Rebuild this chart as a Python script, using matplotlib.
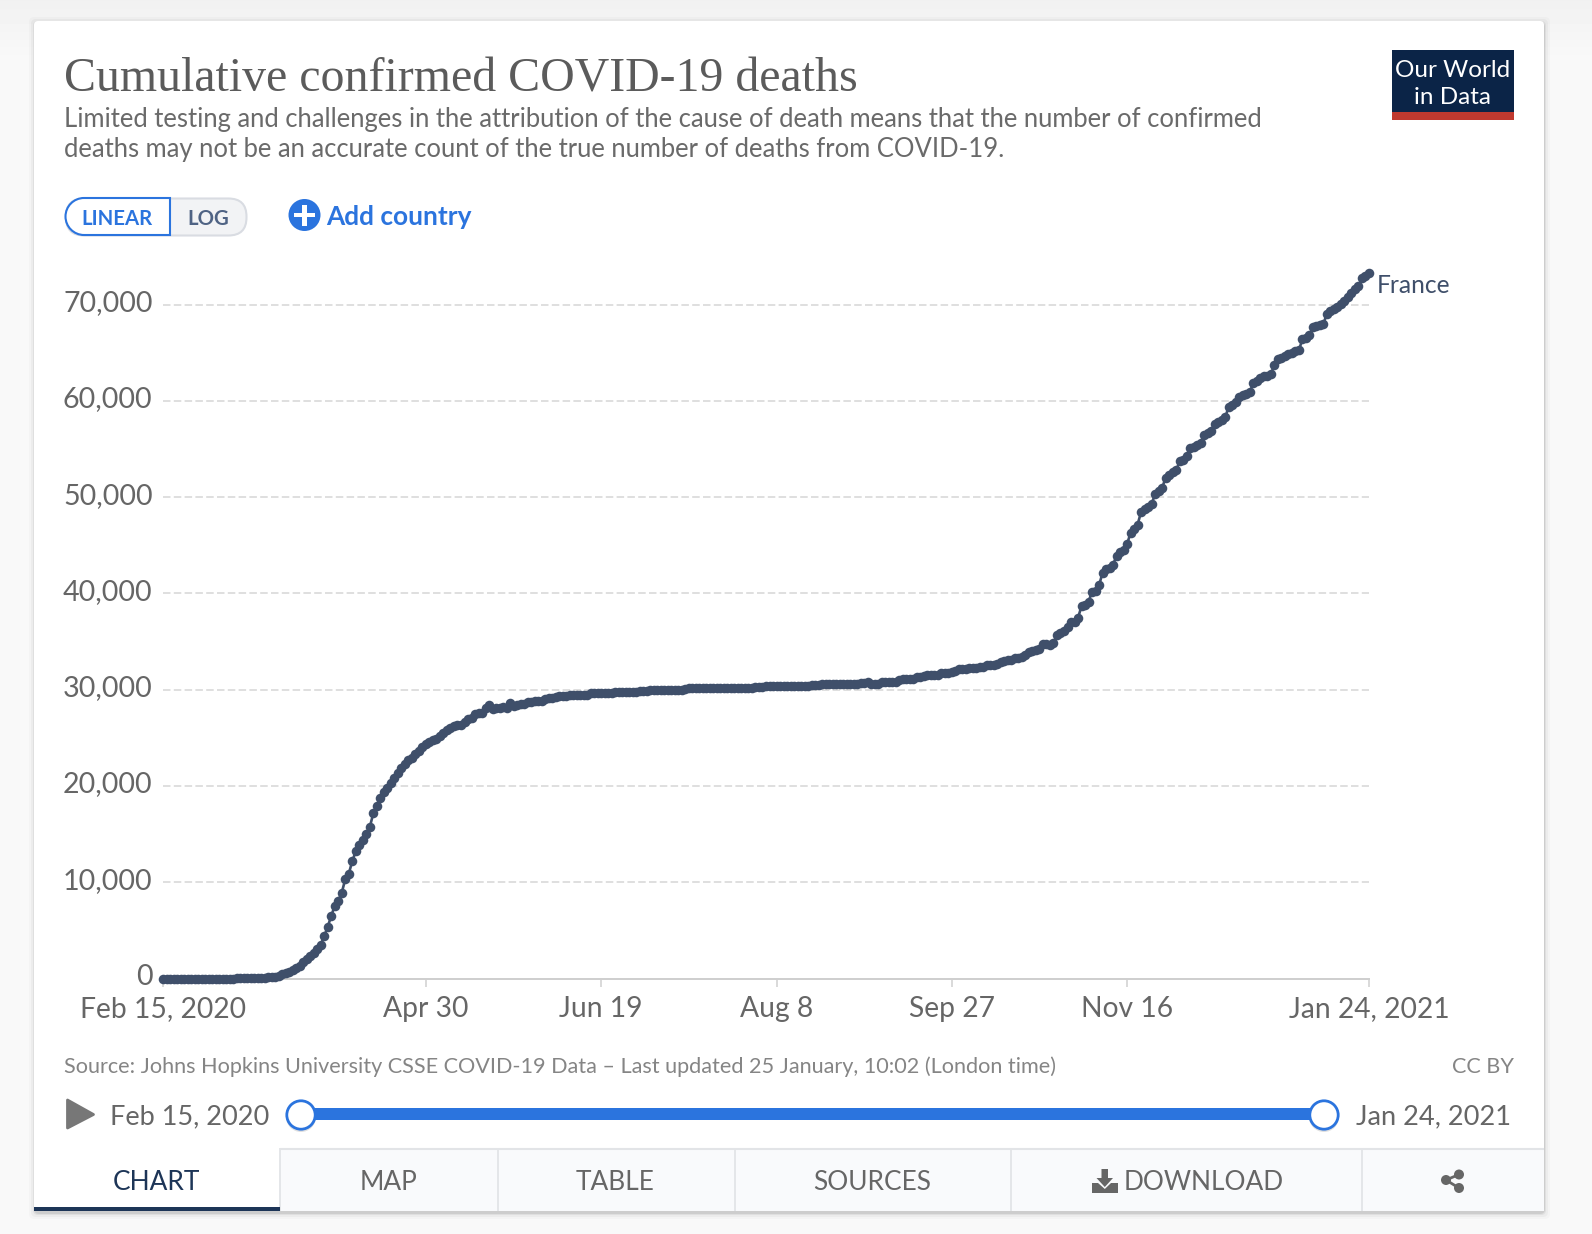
import datetime as dt
import numpy as np
import matplotlib
matplotlib.use("Agg")
import matplotlib.pyplot as plt
import matplotlib.dates as mdates
from matplotlib.patches import Rectangle, FancyBboxPatch, Circle, PathPatch, Polygon
from matplotlib.path import Path
from matplotlib.transforms import ScaledTranslation

# ---------- data (confirmed deaths, one value per day) ----------
feb_2020 = [1, 1, 1, 1, 1, 1, 1, 1, 1, 1, 1, 2, 2, 2, 2]
mar_2020 = [2, 3, 4, 4, 6, 9, 11, 19, 19, 33, 48, 48, 79, 91, 91, 149, 149, 149, 244, 451,
            563, 676, 862, 1102, 1333, 1698, 1997, 2317, 2611, 3030, 3532]
apr_2020 = [4414, 5398, 6520, 7574, 8093, 8926, 10343, 10887, 12228, 13215, 13851, 14412,
            14986, 15748, 17188, 17941, 18703, 19345, 19744, 20292, 20829, 21373, 21889,
            22279, 22648, 22893, 23324, 23684, 24101, 24379]
may_2020 = [24597, 24763, 24900, 25204, 25537, 25812, 25990, 26233, 26313, 26383, 26646,
            26994, 27077, 27425, 27529, 27532, 28111, 28400, 28022, 28132, 28135, 28218,
            28100, 28640, 28332, 28460, 28470, 28530, 28720, 28750, 28780]
jun_2020 = [28805, 28835, 29020, 29145, 29155, 29275, 29300, 29310, 29390, 29400, 29425,
            29435, 29445, 29460, 29470, 29620, 29640, 29650, 29660, 29665, 29675, 29680,
            29735, 29755, 29770, 29785, 29795, 29800, 29805, 29815]
jul_2020 = [29845, 29900, 29975, 29985, 29990, 29995, 29997, 29998, 30005, 30010, 30015,
            30020, 30025, 30160, 30165, 30170, 30172, 30175, 30178, 30180, 30182, 30185,
            30188, 30190, 30192, 30195, 30198, 30200, 30203, 30206, 30210]
aug_2020 = [30225, 30230, 30240, 30260, 30395, 30400, 30402, 30405, 30408, 30410, 30412,
            30415, 30418, 30420, 30425, 30430, 30435, 30440, 30440, 30445, 30600, 30603,
            30606, 30610, 30612, 30615, 30618, 30620, 30625, 30630, 30640]
sep_2020 = [30660, 30700, 30825, 30620, 30620, 30640, 30810, 30815, 30820, 30825, 30830,
            31050, 31060, 31070, 31080, 31090, 31330, 31345, 31460, 31490, 31510, 31525,
            31540, 31700, 31715, 31730, 31880, 31920, 32120, 32140]
oct_2020 = [32160, 32210, 32230, 32250, 32320, 32360, 32520, 32560, 32610, 32700, 32830,
            32940, 33040, 33120, 33250, 33320, 33420, 33580, 33920, 34060, 34170, 34230,
            34700, 34760, 34640, 34900, 35640, 35890, 36050, 36500, 36980]
nov_2020 = [37080, 37460, 38680, 38830, 39150, 40150, 40220, 40840, 42140, 42540, 42600,
            43000, 43900, 44250, 44480, 45130, 46300, 46650, 47150, 48480, 48730, 49000,
            49300, 50320, 50620, 50960, 52030, 52320, 52600, 52800]
dec_2020 = [53700, 53900, 54300, 55100, 55250, 55450, 55580, 56450, 56680, 56900, 57600,
            57760, 58000, 58300, 59400, 59550, 59850, 60430, 60560, 60750, 60950, 61800,
            62050, 62400, 62560, 62620, 62780, 63700, 64300, 64450, 64630]
jan_2021 = [64860, 64990, 65150, 65250, 66380, 66560, 66830, 67620, 67750, 67880, 68000,
            69050, 69300, 69490, 69780, 70050, 70320, 70800, 71200, 71650, 71900, 72710,
            73000, 73250]
france = (feb_2020 + mar_2020 + apr_2020 + may_2020 + jun_2020 + jul_2020 + aug_2020
          + sep_2020 + oct_2020 + nov_2020 + dec_2020 + jan_2021)
start_date = dt.date(2020, 2, 15)
dates = [start_date + dt.timedelta(days=i) for i in range(len(france))]

y_ticks = [0, 10000, 20000, 30000, 40000, 50000, 60000, 70000]
x_tick_dates = [dt.date(2020, 2, 15), dt.date(2020, 4, 30), dt.date(2020, 6, 19),
                dt.date(2020, 8, 8), dt.date(2020, 9, 27), dt.date(2020, 11, 16),
                dt.date(2021, 1, 24)]
x_tick_labels = ["Feb 15, 2020", "Apr 30", "Jun 19", "Aug 8", "Sep 27", "Nov 16", "Jan 24, 2021"]

title = "Cumulative confirmed COVID-19 deaths"
subtitle_1 = "Limited testing and challenges in the attribution of the cause of death means that the number of confirmed"
subtitle_2 = "deaths may not be an accurate count of the true number of deaths from COVID-19."
source = "Source: Johns Hopkins University CSSE COVID-19 Data \u2013 Last updated 25 January, 10:02 (London time)"

# ---------- styles ----------
W, H = 1592, 1234
PX = 0.72  # points per pixel at dpi 100
LINE = "#3f4f6a"
BLUE = "#2b74de"
NAVY = "#0b2447"
GREY = "#666666"
plt.rcParams["font.family"] = ["Lato", "DejaVu Sans"]

fig = plt.figure(figsize=(W / 100, H / 100), dpi=100, facecolor="#f9f9f9")

# chrome layer in pixel coordinates
bg = fig.add_axes([0, 0, 1, 1], zorder=0)
bg.set_xlim(0, W)
bg.set_ylim(H, 0)
bg.axis("off")
grad = np.linspace(0.945, 0.975, 60).reshape(-1, 1)
bg.imshow(grad, extent=(0, W, 60, 0), cmap="gray", vmin=0, vmax=1, aspect="auto", zorder=0)
bg.set_xlim(0, W)
bg.set_ylim(H, 0)

for grow, alpha in [(6, 0.02), (4, 0.03), (2, 0.05), (1, 0.08)]:
    bg.add_patch(FancyBboxPatch((34 - grow + 1, 21 - grow + 2), 1510 + 2 * grow - 1, 1190 + 2 * grow,
                                boxstyle="round,pad=0,rounding_size=5", fc="black", ec="none",
                                alpha=alpha, zorder=1))
bg.add_patch(FancyBboxPatch((34, 21), 1510, 1190, boxstyle="round,pad=0,rounding_size=4",
                            fc="white", ec="none", zorder=2))

bg.text(64, 91, title, family="Liberation Serif", fontsize=47.9 * PX, color="#5b5b5b", va="baseline", zorder=3)
bg.text(64, 127, subtitle_1, fontsize=25.6 * PX, color="#6a6a6a", va="baseline", zorder=3)
bg.text(64, 157, subtitle_2, fontsize=25.6 * PX, color="#6a6a6a", va="baseline", zorder=3)

# logo
bg.add_patch(Rectangle((1392, 50), 122, 62.5, fc=NAVY, ec="none", zorder=3))
bg.add_patch(Rectangle((1392, 112), 122, 8, fc="#c0392f", ec="none", zorder=3))
bg.text(1453, 77, "Our World", fontsize=24.2 * PX, color="white", ha="center", va="baseline", zorder=4)
bg.text(1453, 104, "in Data", fontsize=24.2 * PX, color="white", ha="center", va="baseline", zorder=4)

# LINEAR / LOG toggle
bg.add_patch(FancyBboxPatch((66, 198.5), 180.5, 37, boxstyle="round,pad=0,rounding_size=18",
                            fc="#f2f3f5", ec="#d9dce2", lw=1.5, zorder=3))
r = 18.5
k = 0.5523 * r
xl = 65.5
verts = [(170, 198), (xl + r, 198), (xl + r - k, 198), (xl, 216.5 - k), (xl, 216.5),
         (xl, 216.5 + k), (xl + r - k, 235), (xl + r, 235), (170, 235), (170, 198)]
codes = [Path.MOVETO, Path.LINETO, Path.CURVE4, Path.CURVE4, Path.CURVE4,
         Path.CURVE4, Path.CURVE4, Path.CURVE4, Path.LINETO, Path.CLOSEPOLY]
bg.add_patch(PathPatch(Path(verts, codes), fc="white", ec=BLUE, lw=1.5, zorder=4))
bg.text(117, 225, "LINEAR", fontsize=20.4 * PX, fontweight="bold", color=BLUE, ha="center", va="baseline", zorder=5)
bg.text(208, 225, "LOG", fontsize=20.4 * PX, fontweight="bold", color="#4f6384", ha="center", va="baseline", zorder=5)

# add country
bg.add_patch(Circle((304.5, 215), 16, fc=BLUE, ec="none", zorder=4))
bg.add_patch(Rectangle((294, 213), 21, 4.4, fc="white", ec="none", zorder=5))
bg.add_patch(Rectangle((302.3, 204.5), 4.4, 21, fc="white", ec="none", zorder=5))
bg.text(326.5, 225, "Add country", fontsize=26.2 * PX, fontweight="bold", color=BLUE, va="baseline", zorder=5)

# source line
bg.text(64, 1073, source, fontsize=21.7 * PX, color="#858585", va="baseline", zorder=3)
bg.text(1514, 1073, "CC BY", fontsize=21.7 * PX, color="#858585", ha="right", va="baseline", zorder=3)

# timeline
bg.add_patch(Polygon([(67.5, 1100), (67.5, 1128), (93.5, 1114.5)], closed=True, fc="#777777", ec="#777777",
                     lw=2, joinstyle="round", zorder=3))
bg.text(110, 1124, "Feb 15, 2020", fontsize=27.1 * PX, color=GREY, va="baseline", zorder=3)
bg.text(1356, 1124, "Jan 24, 2021", fontsize=27.2 * PX, color=GREY, va="baseline", zorder=3)
bg.add_patch(Rectangle((301, 1108), 1023, 12, fc=BLUE, ec="none", zorder=3))
for cx in (301, 1324):
    bg.add_patch(Circle((cx, 1117), 15, fc="black", ec="none", alpha=0.12, zorder=3.5))
    bg.add_patch(Circle((cx, 1115), 14.2, fc="white", ec=BLUE, lw=2, zorder=4))

# tabs
bg.add_patch(Rectangle((280, 1148), 1264, 63, fc="#f9fafc", ec="none", zorder=3))
bg.plot([280, 1544], [1148.5, 1148.5], color="#e2e4e7", lw=1.5, zorder=4, solid_capstyle="butt")
for sx in (280, 498, 735, 1011, 1362):
    bg.plot([sx, sx], [1148, 1211], color="#e2e4e7", lw=1.3, zorder=4, solid_capstyle="butt")
bg.add_patch(Rectangle((34, 1207), 246, 4, fc="#1d3557", ec="none", zorder=4))
tab_kw = dict(fontsize=26.3 * PX, ha="center", va="baseline", zorder=5)
bg.text(156, 1190.5, "CHART", color="#1d3557", **tab_kw)
bg.text(389, 1190.5, "MAP", color=GREY, **tab_kw)
bg.text(615.5, 1190.5, "TABLE", color=GREY, **tab_kw)
bg.text(872, 1190.5, "SOURCES", color=GREY, **tab_kw)
bg.text(1203.5, 1190.5, "DOWNLOAD", color=GREY, **tab_kw)
# download icon
bg.add_patch(Polygon([(1101.5, 1169), (1108, 1169), (1108, 1178), (1113, 1178), (1104.8, 1187),
                      (1096.5, 1178), (1101.5, 1178)], closed=True, fc=GREY, ec="none", zorder=5))
bg.add_patch(Polygon([(1092, 1183), (1098, 1183), (1104.8, 1189), (1111, 1183), (1118, 1183),
                      (1118, 1193), (1092, 1193)], closed=True, fc=GREY, ec="none", zorder=5))
# share icon
share_pts = [(1459, 1174.5), (1446, 1180), (1459, 1188)]
bg.plot([p[0] for p in share_pts], [p[1] for p in share_pts], color=GREY, lw=2, zorder=5)
for p in share_pts:
    bg.add_patch(Circle(p, 5, fc=GREY, ec="none", zorder=5))

# ---------- chart ----------
x0, x1 = 163.0, 1369.0
y_zero, px_per_unit = 978.6, 0.00963
y_max = 74500
top_px = y_zero - y_max * px_per_unit
ax = fig.add_axes([x0 / W, 1 - y_zero / H, (x1 - x0) / W, (y_zero - top_px) / H], zorder=2)
ax.patch.set_alpha(0)
ax.set_xlim(mdates.date2num(start_date), mdates.date2num(x_tick_dates[-1]))
ax.set_ylim(0, y_max)

line, = ax.plot(dates, france, color=LINE, lw=1.9, marker="o", ms=6.9, mew=0, clip_on=False, zorder=5,
                solid_joinstyle="round")
line.set_snap(False)

ax.set_yticks(y_ticks)
ax.set_yticklabels([f"{v:,}" for v in y_ticks], fontsize=28.6 * PX, color=GREY)
ax.set_xticks(mdates.date2num(x_tick_dates))
ax.set_xticklabels(x_tick_labels, fontsize=28.3 * PX, color=GREY)
ax.tick_params(axis="y", length=0, pad=7.5)
ax.tick_params(axis="x", length=8 * PX, width=1.5 * PX, color="#cfcfcf", pad=7)
up = ScaledTranslation(0, 1.5 / 100, fig.dpi_scale_trans)
for lab in ax.get_yticklabels():
    lab.set_verticalalignment("center")
    lab.set_transform(lab.get_transform() + up)

ax.grid(axis="y", color="#d5d5d5", lw=1.5 * PX, dashes=(5, 2.2))
ax.set_axisbelow(True)
for name, spine in ax.spines.items():
    spine.set_visible(name == "bottom")
ax.spines["bottom"].set_color("#cfcfcf")
ax.spines["bottom"].set_linewidth(2 * PX)
ax.yaxis.get_gridlines()[0].set_visible(False)

ax.annotate("France", xy=(dates[-1], france[-1]), xytext=(8 * PX, -20 * PX), textcoords="offset points",
            fontsize=24.6 * PX, color=LINE, va="baseline", annotation_clip=False)

fig.savefig("out.png", dpi=100, facecolor=fig.get_facecolor())
